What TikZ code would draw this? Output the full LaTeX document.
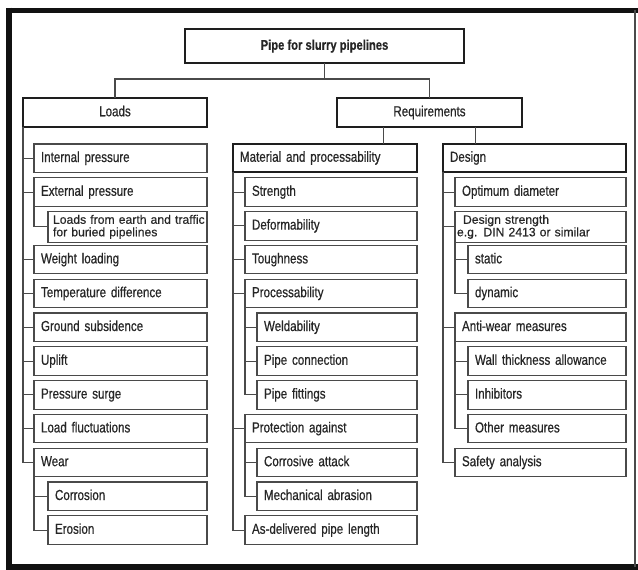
\documentclass[tikz,border=0pt]{standalone}
\usepackage{fontspec}
\setmainfont{Liberation Sans}[FakeStretch=0.8, FakeBold=0.6]
\newfontfamily\plainfont{Liberation Sans}[FakeBold=0.5]
\usetikzlibrary{calc}
\definecolor{framec}{HTML}{111111}
\definecolor{headc}{HTML}{1E1E1E}
\definecolor{linec}{HTML}{4A4A4A}
\definecolor{txtc}{HTML}{262626}
\begin{document}
\begin{tikzpicture}[x=1pt,y=-1pt,
  base/.style={outer sep=0pt, anchor=north west, text=txtc,
    font=\fontsize{14.5}{16}\selectfont, text height=10.5pt, text depth=3pt},
  head/.style={base, draw=headc, line width=1.8pt, align=center, inner xsep=0pt},
  headleft/.style={base, draw=headc, line width=1.8pt, align=left, inner xsep=7pt,
    text width=#1, minimum height=28pt},
  item/.style={base, draw=linec, line width=1.1pt, minimum height=28.5pt,
    align=left, inner xsep=7pt, text width=#1},
  twoline/.style={font=\plainfont\fontsize{12.2}{12.5}\selectfont,
    text height={}, text depth={}, inner xsep=2pt},
  conn/.style={draw=linec, line width=1.1pt}]
\useasboundingbox (0,0) rectangle (638,570);

% outer frame
\draw[framec, line width=6pt] (9,7.5) -- (9,570);
\draw[framec, line width=5pt] (6,10) -- (638,10);
\draw[framec, line width=5.5pt] (6,567) -- (638,567);
\draw[linec, line width=1.5pt] (635,10) -- (635,567);

% top levels
\node[head, minimum width=279pt, minimum height=34pt,
  font=\bfseries\fontsize{14}{16}\selectfont] (top) at (185,29) {Pipe for slurry pipelines};
\node[head, minimum width=184pt, minimum height=29pt] (loads) at (23,98) {Loads};
\node[head, minimum width=185pt, minimum height=29pt] (req) at (337,98) {Requirements};
\node[headleft=170pt] (mat) at (233,144) {Material and processability};
\node[headleft=169pt] (des) at (443,144) {Design};

% loads column
\node[item=159pt] (ip) at (34,144)   {Internal pressure};
\node[item=159pt] (ep) at (34,177.8) {External pressure};
\node[item=155pt, twoline, font=\plainfont\fontsize{12.2}{12.5}\selectfont] (le) at (48,211.6)
  {\mbox{\hspace{3pt}Loads from earth and traffic}\\\mbox{\hspace{3pt}for buried pipelines}};
\node[item=159pt] (wl) at (34,245.4) {Weight loading};
\node[item=159pt] (td) at (34,279.2) {Temperature difference};
\node[item=159pt] (gs) at (34,313)   {Ground subsidence};
\node[item=159pt] (up) at (34,346.8) {Uplift};
\node[item=159pt] (ps) at (34,380.6) {Pressure surge};
\node[item=159pt] (lf) at (34,414.4) {Load fluctuations};
\node[item=159pt] (wr) at (34,448.2) {Wear};
\node[item=145pt] (co) at (48,482)   {Corrosion};
\node[item=145pt] (er) at (48,515.8) {Erosion};

% material column
\node[item=158pt] (st) at (245,177.8) {Strength};
\node[item=158pt] (de) at (245,211.6) {Deformability};
\node[item=158pt] (to) at (245,245.4) {Toughness};
\node[item=158pt] (pr) at (245,279.2) {Processability};
\node[item=146pt] (we) at (257,313)   {Weldability};
\node[item=146pt] (pc) at (257,346.8) {Pipe connection};
\node[item=146pt] (pf) at (257,380.6) {Pipe fittings};
\node[item=158pt] (pa) at (245,414.4) {Protection against};
\node[item=146pt] (ca) at (257,448.2) {Corrosive attack};
\node[item=146pt] (ma) at (257,482)   {Mechanical abrasion};
\node[item=158pt] (ad) at (245,515.8) {As-delivered pipe length};

% design column
\node[item=157pt] (od) at (455,177.8) {Optimum diameter};
\node[item=167pt, twoline] (ds) at (455,211.6) {\hspace{6pt}Design strength\\e.g. DIN 2413 or similar};
\node[item=144pt] (sta) at (468,245.4) {static};
\node[item=144pt] (dyn) at (468,279.2) {dynamic};
\node[item=157pt] (aw) at (455,313)   {Anti-wear measures};
\node[item=144pt] (wt) at (468,346.8) {Wall thickness allowance};
\node[item=144pt] (inh) at (468,380.6) {Inhibitors};
\node[item=144pt] (om) at (468,414.4) {Other measures};
\node[item=157pt] (sa) at (455,448.2) {Safety analysis};

% upper connectors
\coordinate (fork) at (324.5,79);
\draw[conn] (top.south) -- (fork);
\draw[conn] (loads.north) |- (fork) -| (req.north);
\coordinate (rm) at ($(req.south west)!0.25!(req.south east)$);
\coordinate (rd) at ($(req.south west)!0.75!(req.south east)$);
\draw[conn] (rm) -- (rm |- mat.north);
\draw[conn] (rd) -- (rd |- des.north);

% loads branches
\draw[conn] (loads.south west) |- (wr.west);
\foreach \n in {ip,ep,wl,td,gs,up,ps,lf}
  \draw[conn] (loads.south west |- \n.west) -- (\n.west);
\draw[conn] (ep.south west) |- (le.west);
\draw[conn] (wr.south west) |- (er.west);
\draw[conn] (wr.south west |- co.west) -- (co.west);

% material branches
\draw[conn] (mat.south west) |- (ad.west);
\foreach \n in {st,de,to,pr,pa}
  \draw[conn] (mat.south west |- \n.west) -- (\n.west);
\draw[conn] (pr.south west) |- (pf.west);
\foreach \n in {we,pc}
  \draw[conn] (pr.south west |- \n.west) -- (\n.west);
\draw[conn] (pa.south west) |- (ma.west);
\draw[conn] (pa.south west |- ca.west) -- (ca.west);

% design branches
\draw[conn] (des.south west) |- (sa.west);
\foreach \n in {od,ds,aw}
  \draw[conn] (des.south west |- \n.west) -- (\n.west);
\draw[conn] (ds.south west) |- (dyn.west);
\draw[conn] (ds.south west |- sta.west) -- (sta.west);
\draw[conn] (aw.south west) |- (om.west);
\foreach \n in {wt,inh}
  \draw[conn] (aw.south west |- \n.west) -- (\n.west);
\end{tikzpicture}
\end{document}
